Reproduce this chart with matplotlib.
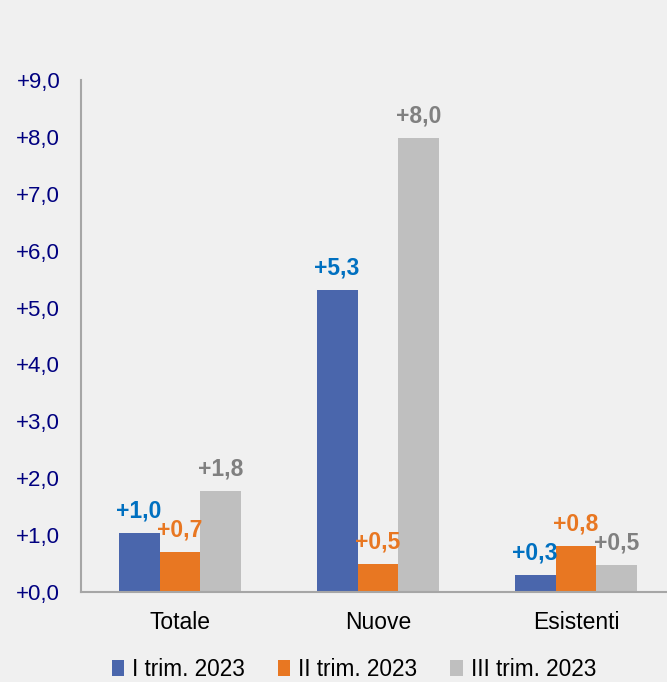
import matplotlib
matplotlib.use("Agg")
import matplotlib.pyplot as plt
import numpy as np
from matplotlib.patches import Patch

categories = ["Totale", "Nuove", "Esistenti"]
series_names = ["I trim. 2023", "II trim. 2023", "III trim. 2023"]
s1 = [1.04, 5.31, 0.30]
s2 = [0.70, 0.49, 0.81]
s3 = [1.78, 7.98, 0.47]
yticks = [0, 1, 2, 3, 4, 5, 6, 7, 8, 9]

bar_colors = ["#4a66ac", "#e87722", "#bfbfbf"]
label_colors = ["#0070c0", "#e87722", "#808080"]
bg = "#f0f0f0"

plt.rcParams['font.family'] = ['Liberation Sans', 'DejaVu Sans']

fig = plt.figure(figsize=(6.67, 6.82), dpi=100, facecolor=bg)
ax = fig.add_axes([81/667, 90/682, 594/667, 512/682])
ax.set_facecolor(bg)

x = np.arange(len(categories))
w = 0.207
for i, vals in enumerate([s1, s2, s3]):
    pos = x + (i - 1) * w
    ax.bar(pos, vals, width=w, color=bar_colors[i], label=series_names[i])
    for p, v in zip(pos, vals):
        ax.annotate(f"+{v:.1f}".replace(".", ","), (p, v), xytext=(0, 11),
                    textcoords="offset points", ha="center", va="baseline",
                    fontsize=16.5, fontweight="bold", color=label_colors[i])

ax.set_xlim(-0.5, 2.5)
ax.set_ylim(0, 9)
ax.set_yticks(yticks)
ax.set_yticklabels([f"+{t:.1f}".replace(".", ",") for t in yticks], color="#000080", fontsize=16)
ax.set_xticks(x)
ax.set_xticklabels(categories, fontsize=16.5, color="black")
ax.tick_params(axis="both", length=0)
ax.tick_params(axis="y", pad=15)
ax.tick_params(axis="x", pad=14)
for s in ["top", "right"]:
    ax.spines[s].set_visible(False)
for s in ["left", "bottom"]:
    ax.spines[s].set_color("#a6a6a6")
    ax.spines[s].set_linewidth(1.5)

handles = [Patch(facecolor=c, edgecolor="none") for c in bar_colors]
fig.legend(handles, series_names, loc="center", bbox_to_anchor=(354/667, 1 - 669/682),
           ncol=3, frameon=False, fontsize=16.3, handlelength=0.55, handleheight=0.7,
           handletextpad=0.35, columnspacing=1.45)

fig.savefig("out.png", dpi=100, facecolor=bg)
